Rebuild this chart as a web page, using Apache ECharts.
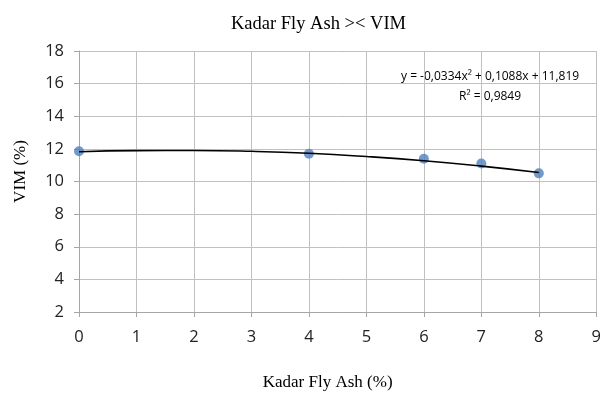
<!DOCTYPE html>
<html>
<head>
<meta charset="utf-8">
<script src="https://cdn.jsdelivr.net/npm/echarts@6/dist/echarts.min.js"></script>
<style>html,body{margin:0;padding:0;background:#fff}#c{width:604px;height:396px}</style>
</head>
<body>
<div id="c"></div>
<script>
var xValues = [0, 4, 6, 7, 8];
var vimValues = [11.85, 11.7, 11.4, 11.1, 10.5];
var trendX = [0, 1, 2, 3, 4, 5, 6, 7, 8];
var trendY = [11.82, 11.89, 11.9, 11.85, 11.73, 11.53, 11.27, 10.94, 10.55];
var yTicks = [2, 4, 6, 8, 10, 12, 14, 16, 18];
var xTicks = [0, 1, 2, 3, 4, 5, 6, 7, 8, 9];
var titleText = 'Kadar Fly Ash >< VIM';
var equationText = 'y = -0,0334x² + 0,1088x + 11,819';
var r2Text = 'R² = 0,9849';

var chart = echarts.init(document.getElementById('c'), null, {renderer: 'canvas'});
var serif = '"Liberation Serif", "DejaVu Serif", serif';
var sans = '"Open Sans", "Noto Sans", sans-serif';
chart.setOption({
  animation: false,
  backgroundColor: '#ffffff',
  title: {
    text: titleText, left: 226, top: 10,
    textStyle: {fontFamily: serif, fontSize: 18.5, fontWeight: 'normal', color: '#000'}
  },
  grid: {left: 79, right: 4, top: 51, bottom: 84},
  xAxis: {
    type: 'value', min: xTicks[0], max: xTicks[xTicks.length - 1], interval: 1,
    name: 'Kadar Fly Ash (%)', nameLocation: 'middle', nameGap: 62,
    nameTextStyle: {fontFamily: serif, fontSize: 17, color: '#000', padding: [0, 0, 0, -20]},
    axisLine: {show: true, onZero: false, lineStyle: {color: '#a6a6a6'}},
    axisTick: {show: true, length: 5, lineStyle: {color: '#a6a6a6'}},
    axisLabel: {fontFamily: sans, fontSize: 16.5, color: '#222', margin: 17},
    splitLine: {show: true, lineStyle: {color: '#c0c0c0', width: 1}}
  },
  yAxis: {
    type: 'value', min: yTicks[0], max: yTicks[yTicks.length - 1], interval: 2,
    name: 'VIM (%)', nameLocation: 'middle', nameGap: 50, nameRotate: 90,
    nameTextStyle: {fontFamily: serif, fontSize: 17, color: '#000', padding: [0, 0, 0, 20]},
    axisLine: {show: true, lineStyle: {color: '#a6a6a6'}},
    axisTick: {show: true, length: 5, lineStyle: {color: '#a6a6a6'}},
    axisLabel: {fontFamily: sans, fontSize: 16.5, color: '#222', margin: 15},
    splitLine: {show: true, lineStyle: {color: '#c0c0c0', width: 1}}
  },
  series: [
    {
      type: 'line', data: trendX.map(function (x, i) { return [x, trendY[i]]; }),
      smooth: true, showSymbol: false, symbol: 'none',
      lineStyle: {color: '#000', width: 1.6}, z: 3
    },
    {
      type: 'scatter', data: xValues.map(function (x, i) { return [x, vimValues[i]]; }),
      symbol: 'circle', symbolSize: 10,
      itemStyle: {color: '#4f81bd'}, z: 2
    }
  ],
  graphic: [
    {type: 'text', left: 401, top: 71, style: {text: equationText, font: '12px "Liberation Sans Narrow", "Open Sans", sans-serif', fill: '#000'}},
    {type: 'text', left: 459, top: 91, style: {text: r2Text, font: '12px "Liberation Sans Narrow", "Open Sans", sans-serif', fill: '#000'}}
  ]
});
</script>
</body>
</html>
